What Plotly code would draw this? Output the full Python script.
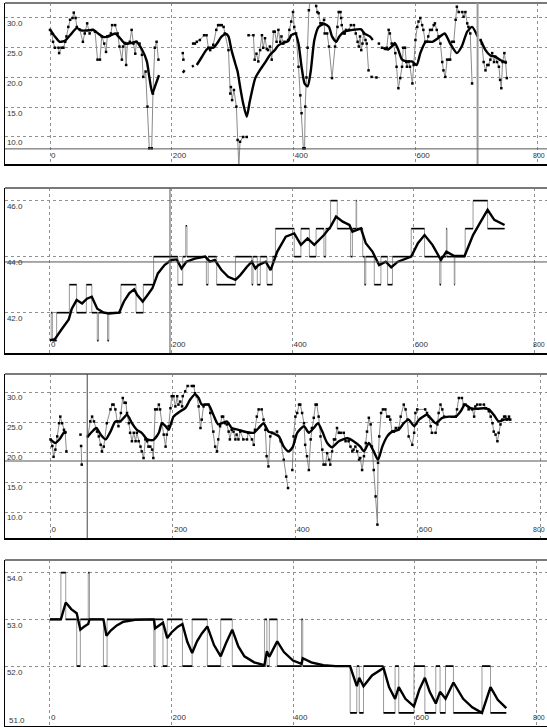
import plotly.graph_objects as go
from plotly.subplots import make_subplots

N = None

# ---------------- Panel 1 ----------------
p1_raw_x = [0,3,5,8,14,15,19,22,25,27,30,33,37,39,42,44,49,54,57,61,65,70,74,78,82,85,89,92,94,97,100,102,107,111,114,118,120,123,125,127,131,134,137,140,142,147,151,153,157,160,163,167,169,172,175,178,N,
            218,219,N,235,238,241,246,253,257,260,263,268,273,276,279,282,285,287,293,296,297,299,302,306,308,310,312,317,323,N,
            326,334,336,339,342,345,348,350,353,356,358,361,364,367,369,372,375,378,380,383,385,391,393,396,399,401,404,408,411,413,416,418,419,421,423,425,428,433,437,439,441,444,447,450,451,455,458,463,468,472,474,477,478,479,482,484,486,491,494,499,502,505,507,509,511,513,515,518,520,523,N,
            528,536,N,540,N,545,550,553,556,558,561,564,567,569,572,575,578,580,583,585,586,589,591,595,597,600,603,605,608,611,613,616,619,621,624,627,630,632,635,638,641,644,646,649,652,655,657,660,663,666,668,671,677,679,682,685,687,690,693,N,
            707,709,712,715,718,720,723,726,729,731,734,737,739,741,743,746,748,750]
p1_raw_y = [28.0,27.4,26,25,25,24.1,25,25,26,26.9,28.5,29.7,30,30.9,30,28.5,28,26,27.4,29.1,27.4,28,27.7,23,23,26.9,25.7,24.3,26.9,27,27.4,28.8,28.8,27.4,25.2,23,25.2,25.8,22.1,25.7,26,28,25.7,24,26,25.7,23.8,20.1,21,15.1,8.1,8.1,17.3,25,26,23,N,
            24.1,23,N,25.7,25.7,26,26.3,27.1,27.1,25,24.6,25.5,28,28.8,28.8,28.8,28.5,27.4,24.6,17.3,18.4,16.2,17.9,15.1,9.5,5.0,9.2,10,10,N,
            27.1,27.1,23,24,22.7,24.6,27.1,25,26.6,24.8,24.6,25.2,23,27.7,27.7,26,28,26,26.9,25.7,26,26.3,28,29.4,31,28.5,27.4,21.8,17,14,8.1,8.1,15.1,20,25,31.3,33.5,33.5,32,31,30.8,29.1,29.1,29.7,27.4,27.4,25.2,19.9,25.2,28.5,31,31,30,28.8,27.4,27.4,28,28,28.8,28.8,27.4,26,25.2,26.9,24.6,25.7,27.4,26.3,25.7,21.2,N,
            20.1,20,N,25.7,N,25,24.8,25,28,27.4,25.7,25.5,24.1,21.8,18.2,19.9,21.8,25,25,22.6,21.8,22.7,21.8,19,22.1,26.3,28.5,29.4,30,28.8,28,26,26,26.9,28,28,28.8,29.1,28,26.9,25.7,22.6,21.2,20.1,23,23,23,26,26,29.7,31.9,31,31,30.2,31,29.1,28.5,27.4,19,N,
            26.3,25.7,22.6,21.2,22.1,22.1,23,24.1,22.6,23.5,22.6,21.8,19.6,18.2,22.6,24.1,22.6,19.9]
p1_smooth_x = [0,8,16,25,33,44,52,60,71,79,88,96,107,115,123,134,142,151,159,163,168,172,179,N,218,221,N,233,236,N,
               241,249,257,263,268,274,282,289,293,298,304,308,312,317,323,328,337,345,353,361,369,375,383,391,396,403,408,413,418,423,428,434,441,450,458,463,470,475,483,497,511,516,525,530,N,
               547,555,561,566,572,578,586,594,602,608,617,628,637,648,657,668,676,685,693,702,N,
               707,715,723,731,740,746,750]
p1_smooth_y = [28.1,26.9,26,26.2,27.1,28.3,27.9,27.9,28,27.4,26.8,26.9,27.4,26.6,25.7,25.8,26,24.7,22.7,20.1,17.3,18.4,20.4,N,20.8,21.2,N,21.8,22.0,N,
               22.1,23.4,24.7,25,25,25.7,26.9,27.3,26.9,24.6,22.4,21,18.5,15.7,13.4,16,19.9,21.3,22.5,23.8,24.6,25.4,25.8,26.1,27.1,27.4,25.7,21.8,19,18.5,21,26.3,28.5,29,28.5,26.9,26,26.9,27.7,28,28.1,27.4,26.9,26.3,N,
               25,24.7,25.2,25.8,24.6,23,22.7,22.7,22.1,24.1,26,26,26.6,27.4,25.7,24.1,25.2,27.7,28.5,26.9,N,
               26.3,24.6,23.7,23.5,22.9,22.6,22.4]
p1_ticks = [10, 15, 20, 25, 30]
p1_cursor_x = [702]
p1_cursor_y = [8.0]

# ---------------- Panel 2 ----------------
p2_raw_x = [0,2,4,11,32,44,60,69,78,80,95,97,117,142,154,171,211,219,224,226,258,261,275,306,333,335,342,347,358,367,372,403,414,428,439,452,455,463,474,496,499,505,506,516,519,521,535,546,557,565,596,618,643,645,654,655,667,668,685,698,722,750]
p2_raw_y = [41,42,41,42,43,42,43,42,41,42,41,42,43,42,43,44,43,44,45.1,44,43,44,43,44,43,44,43,44,43,44,45,44,45,44,45,44,45,46,45,44,45,46,45,44,43,44,43,44,43,44,45,44,43,44,45,44,43,44,45,46,45,45]
p2_smooth_x = [0,8,19,31,36,44,53,61,69,78,89,97,114,122,131,139,144,153,161,169,178,189,200,209,217,225,239,256,264,272,283,294,306,314,325,333,339,344,356,364,
               375,389,403,414,425,436,452,463,472,483,494,499,513,521,532,543,554,563,574,596,607,618,631,645,654,667,684,698,709,722,733,750]
p2_smooth_y = [41.02,41.05,41.4,41.76,42.14,42.45,42.33,42.5,42.57,42.14,42.0,41.97,42.0,42.4,42.7,42.83,42.63,42.4,42.63,42.87,43.4,43.7,43.88,43.9,43.58,43.82,43.93,44.0,43.82,43.88,43.52,43.28,43.17,43.34,43.64,43.82,43.58,43.7,43.82,43.52,
               44.18,44.71,44.83,44.42,44.65,44.42,44.77,45.07,45.43,45.25,45.13,44.89,45.01,44.48,44.18,43.7,43.82,43.62,43.82,44.0,44.48,44.77,44.42,43.88,44.18,44.02,44.02,44.77,45.19,45.67,45.31,45.13]
p2_ticks = [42, 44, 46]
p2_cursor_x = [198]
p2_cursor_y = [43.81]

# ---------------- Panel 3 ----------------
p3_raw_x = [0,3,5,8,11,14,16,19,22,24,26,N,49,N,50,51,N,
            61,65,68,71,76,79,82,84,87,92,98,101,103,106,109,111,115,118,121,123,125,128,130,133,136,139,141,144,147,149,152,155,158,160,163,166,168,171,174,177,179,182,185,188,190,193,196,198,201,204,207,209,212,215,216,220,224,231,234,236,239,242,245,247,250,253,258,261,266,269,272,274,277,280,282,285,288,291,293,296,299,302,304,307,310,315,321,323,329,332,334,337,340,345,348,351,353,356,359,362,370,376,381,385,388,N,
            395,397,400,403,406,408,411,414,416,419,422,425,427,430,433,435,438,441,444,446,449,452,455,457,460,463,465,468,471,474,479,482,487,490,493,495,498,501,504,506,509,512,515,517,520,523,525,528,531,534,535,537,540,543,547,550,553,555,558,561,564,569,572,577,580,583,585,591,594,596,599,612,615,618,621,623,629,632,634,637,640,643,662,664,667,672,675,678,683,689,692,694,697,702,708,711,716,719,722,724,727,730,732,735,738,741,743,746,749,751]
p3_raw_y = [22.1,21,19.2,20.4,22.6,24.8,25.9,24.8,23.7,23.2,20.1,N,22.9,N,21,17.9,N,
            22.6,25.1,25.9,25.1,23.4,22.6,21.2,20.1,20.9,24.8,27.1,27.9,27.9,27.1,25.1,24.3,26.5,29,28.2,28.2,26.5,24.8,23.2,21.8,23.2,21.8,23.2,21.8,20.9,20.1,19,22.1,21.8,20.9,20.9,20.4,19,27.1,27.1,27.9,27.1,24.8,22.9,20.9,22.9,24.3,27.3,29.3,29.3,27.6,29.3,27.9,28.4,27.6,29.3,30.1,31,31,31,29.8,29.3,27.6,24,25.4,27.6,27.9,27.9,26.5,23.4,20.9,20.1,22.1,24.3,25.9,25.9,24.8,24.6,23.4,22.1,23.7,23.4,22.1,22.9,22.1,23.4,22.1,22.1,23.2,22.1,21.2,23.7,25.9,27.1,27.1,25.4,23.7,19.3,17.6,22.6,23.2,23.4,21.8,18.7,15.9,14,N,
            17,22.6,25.9,26.5,27.9,27.9,26.5,24.8,21.2,19.3,17,22.1,24,25.7,27.9,27.9,25.9,22.6,20.4,17.9,17.9,19.8,18.7,17.9,20.1,22.1,22.1,24,23.2,23.2,23.2,21.8,21.8,20.9,20.1,20.4,20.9,20.1,18.7,19,17,19.3,21.5,23.4,25.7,24.6,20.9,17,12.6,7.9,18.2,22.6,26.5,27.1,27.1,25.9,25.9,25.4,23.4,23.4,24,24,25.9,27.9,27.1,25.4,22.6,21.2,23.2,26.5,27.1,27.1,26.5,25.9,24.3,23.2,23.2,24.6,26.5,27.9,27.1,25.9,25.9,27.1,29,29,27.9,27.9,27.1,27.1,25.9,27.6,27.9,27.9,27.9,27.3,26.8,25.9,24.8,23.4,22.9,21.8,23.2,24.6,25.4,25.9,25.9,25.4,25.9,25.4]
p3_smooth_x = [0,8,16,23,26,N,61,68,75,82,90,98,106,114,125,133,141,149,158,168,177,182,188,193,201,212,220,228,236,242,247,258,266,274,288,296,307,321,332,340,348,356,
               362,373,381,389,396,403,414,422,430,437,444,452,460,471,485,495,506,512,520,528,535,542,550,558,569,577,585,594,602,615,629,640,651,662,670,677,686,697,708,716,724,732,741,751]
p3_smooth_y = [22.1,21.5,22.3,23.4,23.2,N,22.6,23.4,24,22.9,22.1,23.4,25.1,25.1,26.2,24.8,23.7,23.2,22.1,22,23.2,24.8,24.3,23.7,25.9,26.8,27.3,28.7,29.6,29,27.9,27.9,26.2,24.6,25.1,24,23.7,23.3,23.2,24,24.8,23.4,
               23.2,22.6,20.9,20.1,20.9,23.2,24.3,23.2,24,24.8,23.4,21.5,20.8,21.8,22.3,21.8,20.9,20.1,21.5,20.1,18.7,20.9,22.6,23.4,23.7,24.8,25.4,24.3,25.4,26.2,24.8,25.7,25.9,25.9,26.8,27.9,27.3,27.2,27.3,27.1,26.2,25.1,25.4,25.5]
p3_ticks = [10, 15, 20, 25, 30]
p3_cursor_x = [60]
p3_cursor_y = [18.5]

# ---------------- Panel 4 ----------------
p4_raw_x = [0,18,26,44,50,63,65,88,94,171,173,186,193,218,234,259,281,300,353,357,361,374,414,416,494,505,509,516,549,568,574,599,617,635,642,651,664,711,725,751]
p4_raw_y = [53,54,53,52,53,54,53,52,53,52,53,52,53,52,53,52,53,52,53,52,53,52,53,52,51,52,51,52,51,52,51,52,51,52,51,52,51,52,51,51]
p4_smooth_x = [0,18,26,35,44,50,56,63,65,88,93,100,110,121,140,171,173,180,186,193,200,210,218,226,234,242,250,259,270,281,290,300,310,320,336,353,357,361,374,385,400,414,416,430,450,470,494,499,505,509,516,530,549,558,568,574,585,599,608,617,625,635,642,651,664,680,695,711,725,737,751]
p4_smooth_y = [53,53,53.36,53.22,53.13,52.78,52.84,52.9,53.0,53,52.65,52.76,52.87,52.95,52.99,53,52.81,52.88,52.93,52.6,52.72,52.84,52.9,52.52,52.28,52.53,52.7,52.85,52.45,52.21,52.5,52.78,52.42,52.21,52.08,52.02,52.32,52.2,52.53,52.3,52.12,52.05,52.17,52.08,52.02,52.0,52.0,51.8,51.57,51.75,51.57,51.8,51.96,51.55,51.3,51.55,51.3,51.14,51.5,51.75,51.45,51.2,51.45,51.3,51.65,51.3,51.12,51.0,51.55,51.28,51.1]
p4_ticks = [51, 52, 53, 54]

x_ticks = [0, 200, 400, 600, 800]

# ---------------- layout geometry ----------------
W, H = 547, 727
def fy(py):
    return 1 - py / H

panels = [
    dict(top=3, bot=164, xr=[-73.9, 816], yr=[5.46, 32.52], ticks=p1_ticks),
    dict(top=188, bot=353, xr=[-74.2, 820], yr=[40.56, 46.45], ticks=p2_ticks),
    dict(top=374, bot=538, xr=[-74.3, 811], yr=[5.67, 33.0], ticks=p3_ticks),
    dict(top=560, bot=725.5, xr=[-74, 818], yr=[50.73, 54.27], ticks=p4_ticks),
]

fig = make_subplots(rows=4, cols=1)

RAW_C = '#8a8a8a'
FONT = dict(family='Liberation Sans', size=8, color='#333')


def add_raw(row, xs, ys):
    fig.add_trace(go.Scatter(x=xs, y=ys, mode='lines+markers',
                             line=dict(color=RAW_C, width=1),
                             marker=dict(color='black', size=2.5, symbol='square'),
                             connectgaps=False, showlegend=False, hoverinfo='skip'), row=row, col=1)


def add_step(row, xs, ys):
    fig.add_trace(go.Scatter(x=xs, y=ys, mode='lines', line=dict(color='#9a9a9a', width=1, shape='hv'),
                             showlegend=False, hoverinfo='skip'), row=row, col=1)
    hx, hy = [], []
    for i in range(len(xs) - 1):
        hx += [xs[i], xs[i + 1], None]
        hy += [ys[i], ys[i], None]
    fig.add_trace(go.Scatter(x=hx, y=hy, mode='lines', line=dict(color='black', width=1.6),
                             showlegend=False, hoverinfo='skip'), row=row, col=1)


def add_smooth(row, xs, ys, shape='spline'):
    fig.add_trace(go.Scatter(x=xs, y=ys, mode='lines',
                             line=dict(color='black', width=2.4, shape=shape, smoothing=0.6),
                             connectgaps=False, showlegend=False, hoverinfo='skip'), row=row, col=1)


add_raw(1, p1_raw_x, p1_raw_y)
add_smooth(1, p1_smooth_x, p1_smooth_y)
add_step(2, p2_raw_x, p2_raw_y)
add_smooth(2, p2_smooth_x, p2_smooth_y, shape='linear')
add_raw(3, p3_raw_x, p3_raw_y)
add_smooth(3, p3_smooth_x, p3_smooth_y)
add_step(4, p4_raw_x, p4_raw_y)
add_smooth(4, p4_smooth_x, p4_smooth_y, shape='linear')

for i, p in enumerate(panels, start=1):
    xa = 'xaxis' if i == 1 else f'xaxis{i}'
    ya = 'yaxis' if i == 1 else f'yaxis{i}'
    fig.layout[xa].update(domain=[5 / W, 1], range=p['xr'], tickvals=x_ticks, ticktext=[str(v) for v in x_ticks],
                          showgrid=True, gridcolor='#909090', gridwidth=1, griddash='dot', zeroline=False,
                          showline=True, linecolor='black', linewidth=2, ticks='',
                          ticklabelposition='inside right', tickfont=FONT, fixedrange=True)
    fig.layout[ya].update(domain=[fy(p['bot']), fy(p['top'])], range=p['yr'], tickvals=p['ticks'],
                          ticktext=[f'{v:.1f}' for v in p['ticks']],
                          showgrid=True, gridcolor='#909090', gridwidth=1, griddash='dot', zeroline=False,
                          showline=True, linecolor='black', linewidth=1, ticks='',
                          ticklabelposition='inside bottom', tickfont=FONT, fixedrange=True)
    xr = 'x' if i == 1 else f'x{i}'
    yr = 'y' if i == 1 else f'y{i}'
    # top frame line
    fig.add_shape(type='line', xref=f'{xr} domain', yref=f'{yr} domain', x0=0, x1=1, y0=1, y1=1,
                  line=dict(color='#7a7a7a', width=2))
    # last x tick label, kept inside the right edge
    fig.add_annotation(x=1, xref='paper', y=0, yref=f'{yr} domain', text=str(x_ticks[-1]),
                       showarrow=False, xanchor='right', yanchor='bottom', xshift=0, yshift=3,
                       font=dict(family='Liberation Sans', size=7, color='#333'))

# lowest y tick label of panel 4 (hidden by plotly as it overflows the bottom)
fig.add_annotation(x=0, xref='x4 domain', y=p4_ticks[0], yref='y4', text=f'{p4_ticks[0]:.1f}',
                   showarrow=False, xanchor='left', yanchor='top', xshift=2, yshift=-1, font=FONT)

cursors = [(1, p1_cursor_x, p1_cursor_y, '#9a9a9a', 2), (2, p2_cursor_x, p2_cursor_y, '#555', 1),
           (3, p3_cursor_x, p3_cursor_y, '#444', 1)]
for i, cx, cy, col, wdt in cursors:
    xr = 'x' if i == 1 else f'x{i}'
    yr = 'y' if i == 1 else f'y{i}'
    for v in cx:
        fig.add_shape(type='line', xref=xr, yref=f'{yr} domain', x0=v, x1=v, y0=0, y1=1,
                      line=dict(color=col, width=wdt))
    for v in cy:
        fig.add_shape(type='line', xref=f'{xr} domain', yref=yr, x0=0, x1=1, y0=v, y1=v,
                      line=dict(color='#555', width=1))

fig.update_layout(width=W, height=H, margin=dict(l=0, r=0, t=0, b=0),
                  paper_bgcolor='white', plot_bgcolor='white', showlegend=False)

fig.write_html("out.html", config={'displayModeBar': False},
               post_script="document.body.style.margin='0px';document.body.style.overflow='hidden';")
